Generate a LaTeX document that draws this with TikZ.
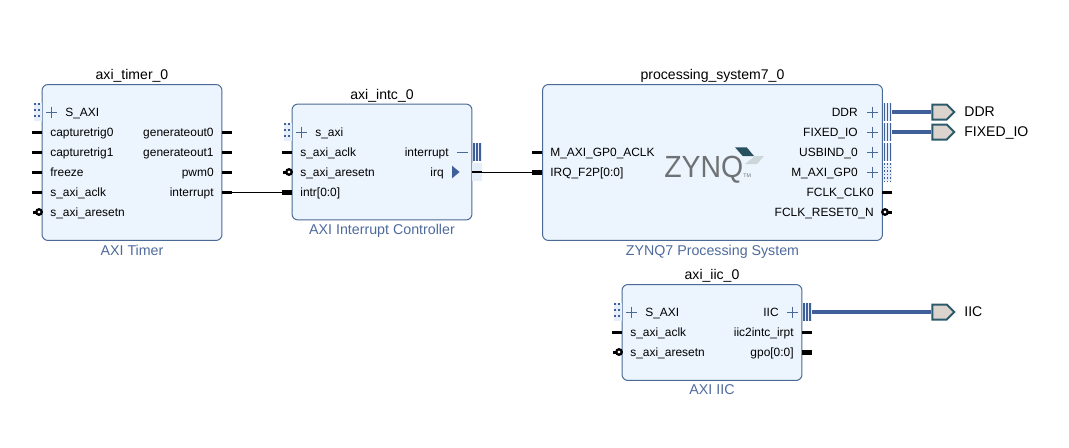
\documentclass[tikz,border=0pt]{standalone}
\usepackage{fontspec}
\setmainfont{Liberation Sans}
\usepackage{xcolor}
\usetikzlibrary{ calc, positioning, shapes.geometric, shapes.symbols }
\definecolor{blockfill}{HTML}{ECF4FD}
\definecolor{blockline}{HTML}{4A6A95}
\definecolor{subtext}{HTML}{4E6A9C}
\definecolor{busblue}{HTML}{3F5F9A}
\definecolor{portfill}{HTML}{DAD3CE}
\definecolor{portline}{HTML}{2C5A6B}
\definecolor{pinpale}{HTML}{E6EFF9}
\definecolor{zynqgray}{HTML}{6F7274}
\tikzset{
  x=0.02cm, y=-0.02cm, % one unit is one pixel of the reference
  block/.style={draw=blockline, fill=blockfill, line width=0.02cm, rounded corners=0.12cm, minimum width=3.6cm, inner sep=0pt},
  title/.style={font=\fontsize{8}{9}\selectfont, inner sep=0pt},
  subtitle/.style={font=\fontsize{8.1}{9}\selectfont, text=subtext, inner sep=0pt},
  lefttext/.style={font=\fontsize{6.8}{8}\selectfont, anchor=west, inner sep=0pt, text height=1.5ex, text depth=.62ex},
  righttext/.style={lefttext, anchor=east},
  porttext/.style={font=\fontsize{8}{9}\selectfont, anchor=west, inner sep=0pt, text height=1.5ex, text depth=.62ex},
  stub/.style={fill=black, minimum width=0.2cm, minimum height=0.06cm, inner sep=0pt},
  fatstub/.style={stub, minimum height=0.1cm},
  shortstub/.style={stub, minimum width=0.1cm},
  bubble/.style={circle, draw=black, fill=white, line width=0.045cm, minimum size=0.11cm, inner sep=0pt},
  buspin/.style={fill=pinpale, minimum width=0.18cm, minimum height=0.36cm, inner sep=0pt,
    path picture={\foreach \dx in {-.06,0,.06}{
      \draw[busblue, line width=0.035cm] ([xshift=\dx cm]path picture bounding box.north) -- ([xshift=\dx cm]path picture bounding box.south);}}},
  dotpin/.style={fill=pinpale, minimum width=0.18cm, minimum height=0.36cm, inner sep=0pt,
    path picture={\foreach \dx in {-.06,0,.06}{
      \draw[busblue, line width=0.035cm, dash pattern=on 0.035cm off 0.035cm] ([xshift=\dx cm]path picture bounding box.north) -- ([xshift=\dx cm]path picture bounding box.south);}}},
  slavepin/.style={fill=pinpale, minimum width=0.16cm, minimum height=0.36cm, inner sep=0pt,
    path picture={\foreach \dx in {-.06,.02}{
      \draw[busblue, line width=0.035cm, dash pattern=on 0.035cm off 0.085cm] ([xshift=\dx cm]path picture bounding box.north) -- ([xshift=\dx cm]path picture bounding box.south);}}},
  irqpin/.style={fill=pinpale, minimum width=0.2cm, minimum height=0.36cm, inner sep=0pt,
    path picture={\draw[black, line width=0.04cm] (path picture bounding box.west) -- (path picture bounding box.east);}},
  plusmark/.style={minimum size=0.22cm, inner sep=0pt,
    path picture={\draw[blockline, line width=0.02cm]
      (path picture bounding box.north) -- (path picture bounding box.south)
      (path picture bounding box.west) -- (path picture bounding box.east);}},
  minusmark/.style={minimum size=0.22cm, inner sep=0pt,
    path picture={\draw[blockline, line width=0.02cm] (path picture bounding box.west) -- (path picture bounding box.east);}},
  port/.style={signal, signal to=east, draw=portline, fill=portfill, line width=0.04cm, minimum width=0.44cm, minimum height=0.3cm, inner sep=0pt},
  buswire/.style={draw=busblue, line width=0.08cm},
  wire/.style={draw=black, line width=0.02cm},
}
\begin{document}
\begin{tikzpicture}
  \useasboundingbox (0,0) rectangle (1069,447);

  % the four blocks
  \node[block, minimum height=3.12cm] (timer) at (132,162.5) {};
  \node[block, minimum height=2.32cm] (intc) at (382,162) {};
  \node[block, minimum width=6.8cm, minimum height=3.12cm] (zynq) at (712.5,162.5) {};
  \node[block, minimum height=1.92cm] (iic) at (712,332.5) {};

  \node[title, above=0.7pt of timer] (timer_title) {axi\_timer\_0};
  \node[title, above=0.7pt of intc] (intc_title) {axi\_intc\_0};
  \node[title, above=0.7pt of zynq] (zynq_title) {processing\_system7\_0};
  \node[title, above=0.7pt of iic] (iic_title) {axi\_iic\_0};
  \node[subtitle, below=2pt of timer] (timer_sub) {AXI Timer};
  \node[subtitle, below=2pt of intc] (intc_sub) {AXI Interrupt Controller};
  \node[subtitle, below=2pt of zynq] (zynq_sub) {ZYNQ7 Processing System};
  \node[subtitle, below=2pt of iic] (iic_sub) {AXI IIC};

  % axi_timer_0
  \node[slavepin] (timer_saxi) at (38,112) {};
  \node[plusmark] (timer_plus) at (51.5,112) {};
  \node[lefttext] (timer_saxi_l) at (65,112) {S\_AXI};
  \foreach \y/\txt in {132/capturetrig0, 152/capturetrig1, 172/freeze, 192/s\_axi\_aclk}{
    \node[stub] (timer_in\y) at (37,\y) {};
    \node[lefttext] (timer_lin\y) at (50,\y) {\txt};
  }
  \node[shortstub] (timer_rst) at (35,212) {};
  \node[bubble] (timer_rstb) at (39,212) {};
  \node[lefttext] (timer_rst_l) at (50,212) {s\_axi\_aresetn};
  \foreach \y/\txt in {132/generateout0, 152/generateout1, 172/pwm0, 192/interrupt}{
    \node[stub] (timer_out\y) at (227,\y) {};
    \node[righttext] (timer_lout\y) at (214,\y) {\txt};
  }

  % axi_intc_0
  \node[slavepin] (intc_saxi) at (288,132) {};
  \node[plusmark] (intc_plus) at (301.5,132) {};
  \node[lefttext] (intc_saxi_l) at (315,132) {s\_axi};
  \node[stub] (intc_aclk) at (287,152) {};
  \node[lefttext] (intc_aclk_l) at (300,152) {s\_axi\_aclk};
  \node[shortstub] (intc_rst) at (285,172) {};
  \node[bubble] (intc_rstb) at (289,172) {};
  \node[lefttext] (intc_rst_l) at (300,172) {s\_axi\_aresetn};
  \node[fatstub] (intc_intr) at (287,192) {};
  \node[lefttext] (intc_intr_l) at (300,192) {intr[0:0]};
  \node[righttext] (intc_int_l) at (449,152) {interrupt};
  \node[minusmark] (intc_minus) at (462.5,152) {};
  \node[buspin] (intc_int) at (477,152) {};
  \node[righttext] (intc_irq_l) at (444,172) {irq};
  \node[isosceles triangle, isosceles triangle apex angle=80, fill=busblue, minimum height=0.15cm, minimum width=0.2cm, inner sep=0pt] (intc_tri) at (455,172) {};
  \node[irqpin] (intc_irq) at (477,172) {};

  % processing_system7_0
  \node[stub] (zynq_aclk) at (537,152) {};
  \node[lefttext] (zynq_aclk_l) at (550,152) {M\_AXI\_GP0\_ACLK};
  \node[fatstub] (zynq_irq) at (537,172) {};
  \node[lefttext] (zynq_irq_l) at (550,172) {IRQ\_F2P[0:0]};
  \foreach \y/\txt in {112/DDR, 132/FIXED\_IO, 152/USBIND\_0, 172/M\_AXI\_GP0}{
    \node[righttext] (zynq_l\y) at (858,\y) {\txt};
    \node[plusmark] (zynq_plus\y) at (872.5,\y) {};
  }
  \node[buspin] (zynq_ddr) at (887.5,112) {};
  \node[buspin] (zynq_fixed) at (887.5,132) {};
  \node[buspin] (zynq_usb) at (887.5,152) {};
  \node[dotpin] (zynq_gp) at (887.5,172) {};
  \node[stub] (zynq_clk) at (887,192) {};
  \node[righttext] (zynq_clk_l) at (874,192) {FCLK\_CLK0};
  \node[shortstub] (zynq_rst) at (889,212) {};
  \node[bubble] (zynq_rstb) at (885,212) {};
  \node[righttext] (zynq_rst_l) at (874,212) {FCLK\_RESET0\_N};

  % logo
  \node[font=\fontsize{17.4}{18}\selectfont, text=zynqgray, xscale=0.93, inner sep=0pt, anchor=base west] (zynq_logo) at (664,177) {ZYNQ};
  \node[font=\fontsize{3}{3}\selectfont, text=zynqgray, inner sep=0pt, anchor=base west] (zynq_tm) at (743,177) {TM};
  \fill[portline!90!black] (735,147.3) -- (746.7,147.3) -- (754,156) -- (742.7,156) -- cycle;
  \fill[portline!25!white] (755,156) -- (764,156) -- (757,164) -- (745,164) -- cycle;

  % axi_iic_0
  \node[slavepin] (iic_saxi) at (618,312) {};
  \node[plusmark] (iic_plus) at (631.5,312) {};
  \node[lefttext] (iic_saxi_l) at (645,312) {S\_AXI};
  \node[stub] (iic_aclk) at (617,332) {};
  \node[lefttext] (iic_aclk_l) at (630,332) {s\_axi\_aclk};
  \node[shortstub] (iic_rst) at (615,352) {};
  \node[bubble] (iic_rstb) at (619,352) {};
  \node[lefttext] (iic_rst_l) at (630,352) {s\_axi\_aresetn};
  \node[righttext] (iic_bus_l) at (779,312) {IIC};
  \node[plusmark] (iic_plusr) at (792.5,312) {};
  \node[buspin] (iic_bus) at (807,312) {};
  \node[stub] (iic_irpt) at (807,332) {};
  \node[righttext] (iic_irpt_l) at (794,332) {iic2intc\_irpt};
  \node[fatstub] (iic_gpo) at (807,352) {};
  \node[righttext] (iic_gpo_l) at (794,352) {gpo[0:0]};

  % external ports
  \node[port] (port_ddr) at (939.5,112) {};
  \node[port] (port_fixed) at (939.5,132) {};
  \node[port] (port_iic) at (939.5,312) {};
  \node[porttext] (port_ddr_l) at (964,112) {DDR};
  \node[porttext] (port_fixed_l) at (964,132) {FIXED\_IO};
  \node[porttext] (port_iic_l) at (964,312) {IIC};

  \path[wire]
  (timer_out192) -- (intc_intr)
  (intc_irq) -- (zynq_irq);
  \path[buswire]
  (zynq_ddr) -- (port_ddr)
  (zynq_fixed) -- (port_fixed)
  (iic_bus) -- (port_iic);
\end{tikzpicture}
\end{document}
